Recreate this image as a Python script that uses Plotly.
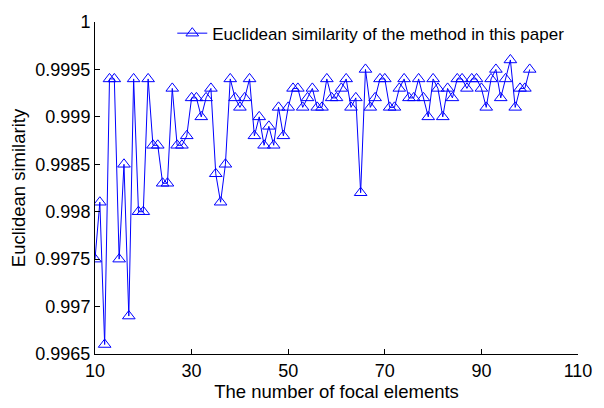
import plotly.graph_objects as go

x_vals = list(range(10, 101))
similarity = [
    0.9975, 0.9981, 0.9966, 0.9994, 0.9994, 0.9975, 0.9985, 0.9969, 0.9994, 0.9980,  # 10-19
    0.9980, 0.9994, 0.9987, 0.9987, 0.9983, 0.9983, 0.9993, 0.9987, 0.9987, 0.9988,  # 20-29
    0.9992, 0.9992, 0.9990, 0.9992, 0.9993, 0.9984, 0.9981, 0.9985, 0.9994, 0.9992,  # 30-39
    0.9991, 0.9992, 0.9994, 0.9988, 0.9990, 0.9987, 0.9989, 0.9987, 0.9991, 0.9988,  # 40-49
    0.9991, 0.9993, 0.9993, 0.9991, 0.9992, 0.9993, 0.9991, 0.9991, 0.9994, 0.9992,  # 50-59
    0.9992, 0.9993, 0.9994, 0.9991, 0.9992, 0.9982, 0.9995, 0.9991, 0.9992, 0.9994,  # 60-69
    0.9994, 0.9991, 0.9991, 0.9993, 0.9994, 0.9992, 0.9992, 0.9994, 0.9992, 0.9990,  # 70-79
    0.9994, 0.9993, 0.9990, 0.9993, 0.9992, 0.9994, 0.9994, 0.9993, 0.9994, 0.9994,  # 80-89
    0.9993, 0.9991, 0.9994, 0.9995, 0.9992, 0.9994, 0.9996, 0.9991, 0.9993, 0.9993,  # 90-99
    0.9995,  # 100
]

x_ticks = [10, 30, 50, 70, 90, 110]
y_ticks = [0.9965, 0.997, 0.9975, 0.998, 0.9985, 0.999, 0.9995, 1.0]
y_tick_labels = ["0.9965", "0.997", "0.9975", "0.998", "0.9985", "0.999", "0.9995", "1"]

series_name = "Euclidean similarity of the method in this paper"

fig = go.Figure()
fig.add_trace(go.Scatter(
    x=x_vals, y=similarity, mode="lines+markers", name=series_name,
    line=dict(color="#0000ff", width=1),
    marker=dict(symbol="triangle-up-open", size=11, color="#0000ff",
                line=dict(width=1, color="#0000ff")),
))

font_family = "Liberation Sans, Arial, Helvetica, sans-serif"

fig.update_layout(
    width=604, height=408,
    margin=dict(l=95, r=21, t=14, b=53),
    paper_bgcolor="white", plot_bgcolor="white",
    font=dict(family=font_family, size=18, color="black"),
    showlegend=True,
    legend=dict(x=0.16, y=0.965, xanchor="left", yanchor="middle",
                bgcolor="rgba(0,0,0,0)", borderwidth=0,
                font=dict(size=17, family=font_family)),
    xaxis=dict(range=[10, 110], tickvals=x_ticks, ticks="inside", ticklen=5,
               tickcolor="black", showline=True, linecolor="black", linewidth=1,
               showgrid=False, zeroline=False,
               tickfont=dict(size=18),
               title=dict(text="The number of focal elements", standoff=2,
                          font=dict(size=18.5))),
    yaxis=dict(range=[0.9965, 1.0], tickvals=y_ticks, ticktext=y_tick_labels,
               ticks="inside", ticklen=5, tickcolor="black", showline=True,
               linecolor="black", linewidth=1, showgrid=False, zeroline=False,
               tickfont=dict(size=18),
               title=dict(text="Euclidean similarity", standoff=4,
                          font=dict(size=18.5))),
)

fig.write_html("out.html")
